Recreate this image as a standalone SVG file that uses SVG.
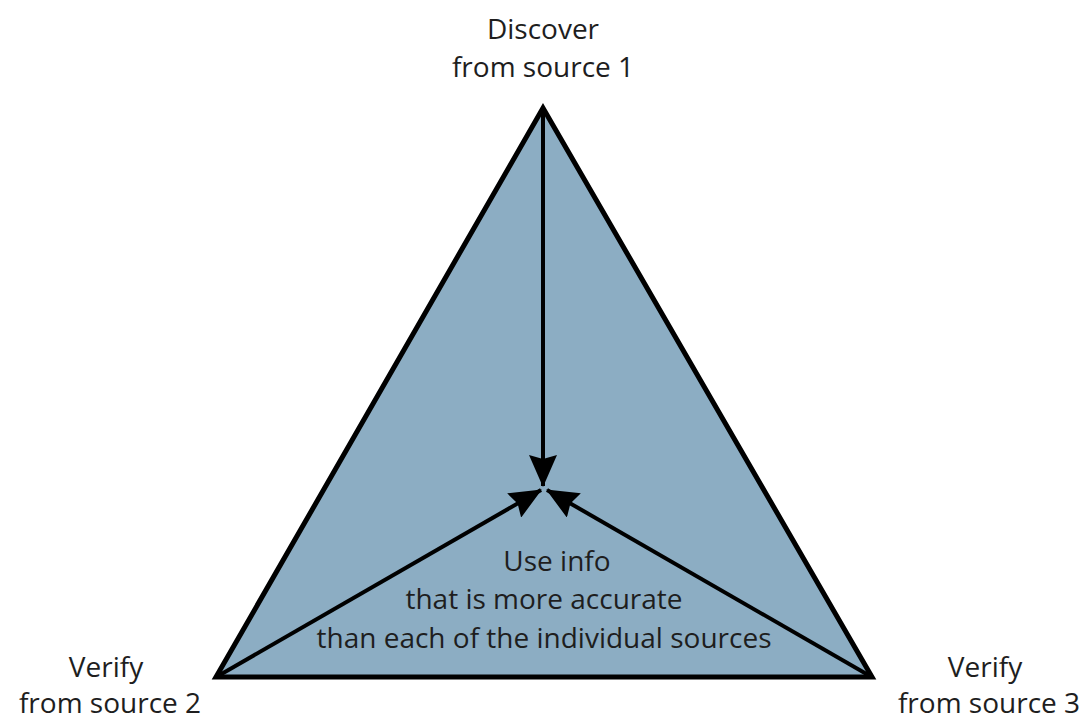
<svg xmlns="http://www.w3.org/2000/svg" width="1084" height="719" viewBox="0 0 1084 719">
<style>
text{font-family:"Open Sans","Noto Sans","Liberation Sans",sans-serif;font-size:28px;fill:#1e1e1e;text-anchor:middle}
.conn{stroke:#000;stroke-width:4;fill:none}
</style>
<defs>
<marker id="ah" viewBox="0 0 32 28" refX="31" refY="14" markerWidth="32" markerHeight="28" markerUnits="userSpaceOnUse" orient="auto">
<path d="M0,0 L32,14 L0,28 L4,14 Z" fill="#000"/>
</marker>
</defs>
<rect width="1084" height="719" fill="#fff"/>
<g id="triangle">
<polygon points="543,108 216,677 872,677" fill="#8cadc3" stroke="#000" stroke-width="5" stroke-linejoin="miter"/>
</g>
<g id="connectors">
<line class="conn" x1="543" y1="110" x2="543" y2="486" marker-end="url(#ah)"/>
<line class="conn" x1="218" y1="676" x2="541" y2="490" marker-end="url(#ah)"/>
<line class="conn" x1="870" y1="676" x2="547" y2="490" marker-end="url(#ah)"/>
</g>
<g id="node-source1">
<text x="543" y="39">Discover</text>
<text x="543" y="77">from source 1</text>
</g>
<g id="node-source2">
<text x="106" y="677">Verify</text>
<text x="110" y="713">from source 2</text>
</g>
<g id="node-source3">
<text x="985" y="677">Verify</text>
<text x="989" y="713">from source 3</text>
</g>
<g id="node-center">
<text x="557" y="571">Use info</text>
<text x="544" y="609">that is more accurate</text>
<text x="544" y="648">than each of the individual sources</text>
</g>
</svg>
